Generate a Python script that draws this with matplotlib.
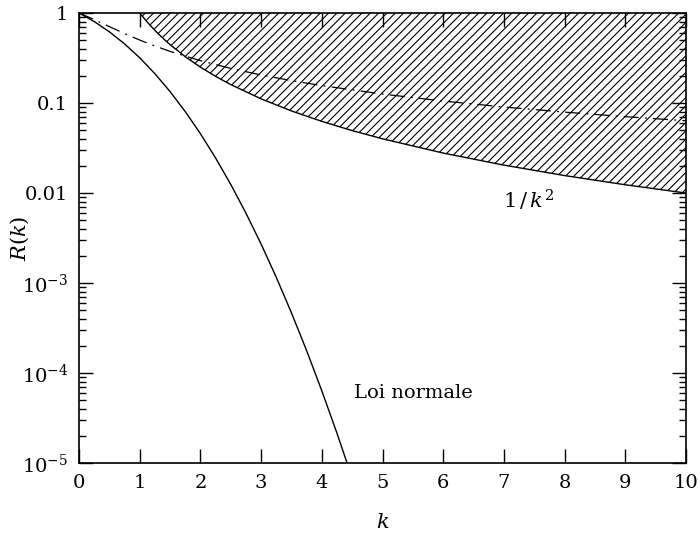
import matplotlib
matplotlib.use("Agg")
import matplotlib.pyplot as plt
from matplotlib.ticker import FixedLocator, LogLocator, NullFormatter, NullLocator

plt.rcParams['font.family'] = ['DejaVu Serif']
plt.rcParams['mathtext.fontset'] = 'dejavuserif'
plt.rcParams['hatch.linewidth'] = 0.8

# Normal distribution two-sided tail R(k)
k_normal = [0.0, 0.25, 0.5, 0.75, 1.0, 1.25, 1.5, 1.75, 2.0, 2.25, 2.5, 2.75,
            3.0, 3.25, 3.5, 3.75, 4.0, 4.25, 4.5]
r_normal = [1.0, 0.8026, 0.6171, 0.4533, 0.3173, 0.2113, 0.1336, 0.0801, 0.0455,
            0.02445, 0.01242, 0.00596, 0.0027, 0.001154, 0.000465, 0.0001768,
            6.334e-5, 2.137e-5, 6.795e-6]

# Dash-dot curve
k_dd = [0.0, 0.25, 0.5, 0.75, 1.0, 1.25, 1.5, 2.0, 2.5, 3.0, 3.5, 4.0, 5.0, 6.0,
        7.0, 8.0, 9.0, 10.0]
r_dd = [1.0, 0.8440, 0.7048, 0.5903, 0.5, 0.4300, 0.3743, 0.2952, 0.2422, 0.2048,
        0.1772, 0.1560, 0.1257, 0.1051, 0.0903, 0.0792, 0.0705, 0.0635]

# Bound 1/k^2
k_bound = [1.0, 1.1, 1.2, 1.3, 1.4, 1.5, 1.75, 2.0, 2.25, 2.5, 3.0, 3.5, 4.0, 4.5,
           5.0, 6.0, 7.0, 8.0, 9.0, 10.0]
r_bound = [1.0, 0.8264, 0.6944, 0.5917, 0.5102, 0.4444, 0.3265, 0.25, 0.1975, 0.16,
           0.1111, 0.08163, 0.0625, 0.04938, 0.04, 0.02778, 0.02041, 0.01563,
           0.01235, 0.01]
r_top = [1.0] * len(k_bound)

x_ticks = [0, 1, 2, 3, 4, 5, 6, 7, 8, 9, 10]
y_ticks = [1e-5, 1e-4, 1e-3, 1e-2, 1e-1, 1]
y_labels = [r'$10^{-5}$', r'$10^{-4}$', r'$10^{-3}$', '0.01', '0.1', '1']

fig = plt.figure(figsize=(7.0, 5.41), dpi=100)
ax = fig.add_axes([0.113, 0.144, 0.867, 0.832])

ax.fill_between(k_bound, r_bound, r_top, facecolor='none', edgecolor='black',
                hatch='////', linewidth=0)
ax.plot(k_bound, r_bound, color='black', lw=1.0)
ax.plot(k_normal, r_normal, color='black', lw=1.0)
ax.plot(k_dd, r_dd, color='black', lw=0.9, linestyle=(0, (12, 5, 1.5, 5)))

ax.set_yscale('log')
ax.set_xlim(0, 10)
ax.set_ylim(1e-5, 1)

ax.xaxis.set_major_locator(FixedLocator(x_ticks))
ax.xaxis.set_minor_locator(NullLocator())
ax.set_xticklabels([str(t) for t in x_ticks])
ax.yaxis.set_major_locator(FixedLocator(y_ticks))
ax.yaxis.set_minor_locator(LogLocator(base=10, subs=range(2, 10)))
ax.yaxis.set_minor_formatter(NullFormatter())
ax.set_yticklabels(y_labels)

ax.tick_params(which='both', direction='in', top=True, right=True,
               labelsize=14, width=1.0)
ax.tick_params(which='major', length=10, pad=8)
ax.tick_params(which='minor', length=5)
for s in ax.spines.values():
    s.set_linewidth(1.2)

ax.set_xlabel(r'$k$', fontsize=15)
ax.xaxis.set_label_coords(0.5, -0.11)
ax.set_ylabel(r'$R(k)$', fontsize=15)
ax.yaxis.set_label_coords(-0.08, 0.5)

ax.text(5.5, 6e-5, 'Loi normale', fontsize=14, ha='center', va='center')
ax.text(7.4, 8.3e-3, r'$\mathit{1}\,/\,k^{2}$', fontsize=15, ha='center', va='center')

fig.savefig('out.png', dpi=100)
